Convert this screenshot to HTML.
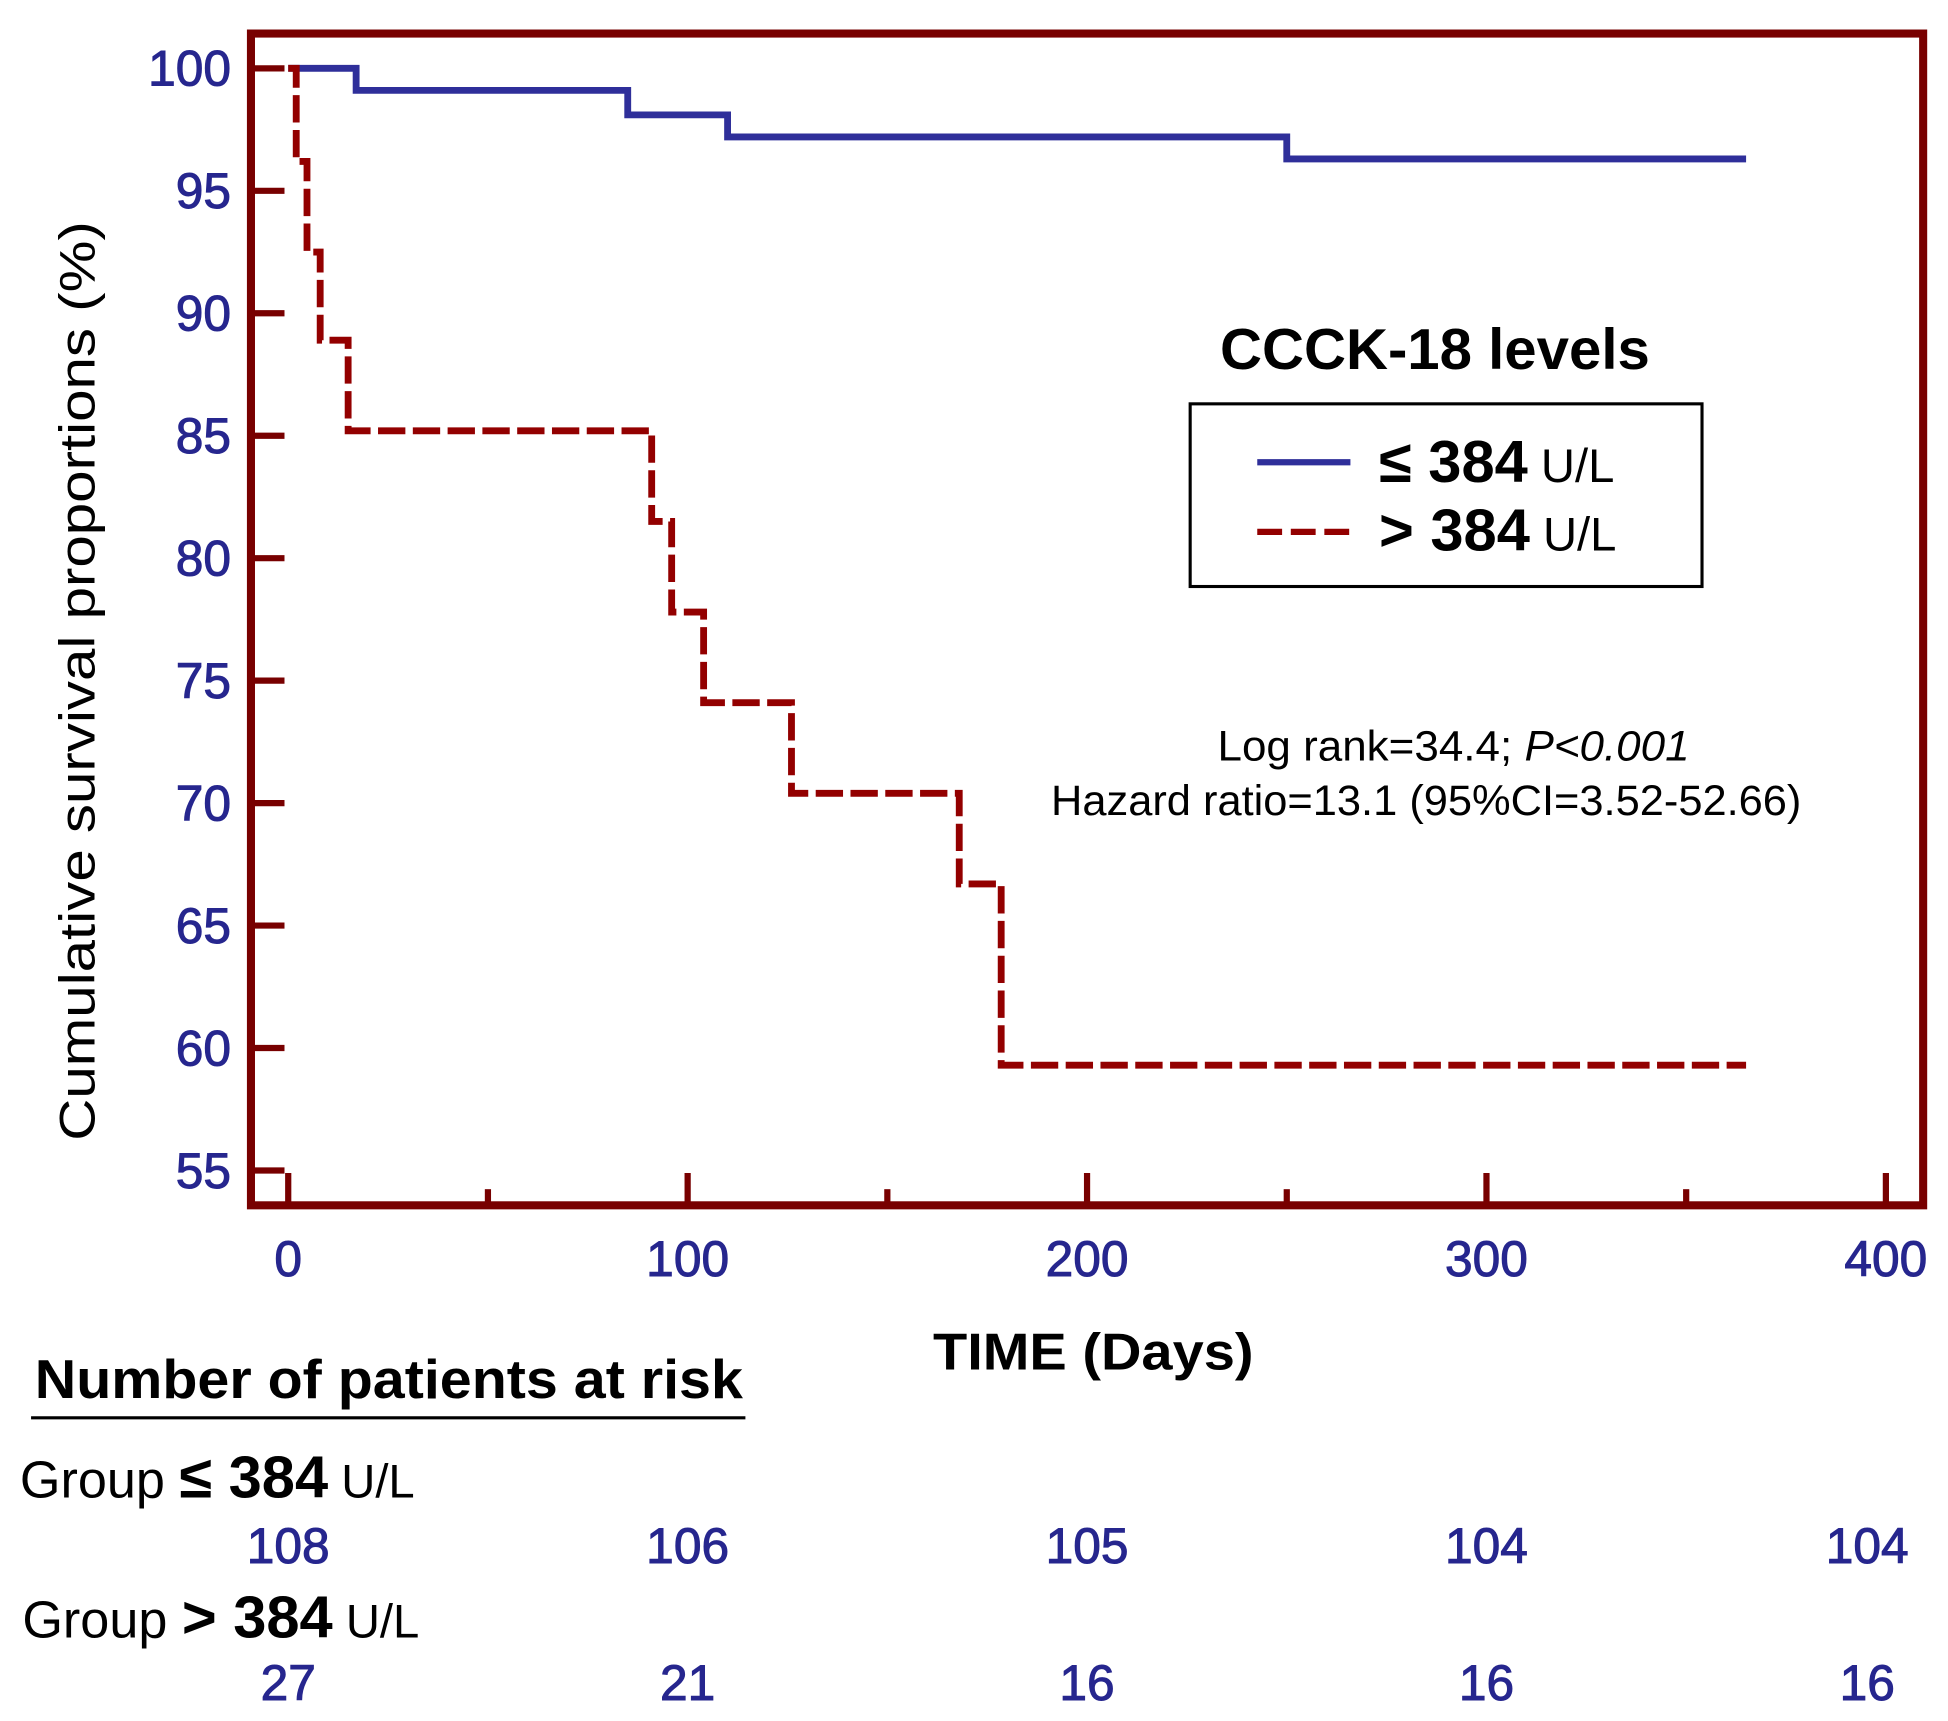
<!DOCTYPE html>
<html><head><meta charset="utf-8"><style>
html,body{margin:0;padding:0;background:#fff;}
svg{display:block;}
text{font-family:"Liberation Sans",Arial,sans-serif;}
</style></head><body>
<svg id="chart" width="1948" height="1721" viewBox="0 0 1568 1385" preserveAspectRatio="none" xmlns="http://www.w3.org/2000/svg">
</svg>
<script>
const xTicks=[0,100,200,300,400];
const xMinor=[50,150,250,350];
const yTicks=[55,60,65,70,75,80,85,90,95,100];
const lowTimes=[0,17,85,110,250,365];
const lowValues=[100,99.1,98.1,97.2,96.3,96.3];
const highTimes=[0,2,4.7,8,15,91,96,104,126,168,178.5,365];
const highValues=[100,96.2,92.5,88.9,85.2,81.5,77.8,74.1,70.4,66.7,59.3,59.3];
const riskLow=[108,106,105,104,104];
const riskHigh=[27,21,16,16,16];
const riskTimes=[0,100,200,300,395];

const NS='http://www.w3.org/2000/svg';
const svg=document.getElementById('chart');
const X=t=>232+t*3.215;
const Y=v=>55+(100-v)*19.71;
function mk(tag,attrs,txt){const e=document.createElementNS(NS,tag);for(const k in attrs)e.setAttribute(k,attrs[k]);if(txt!==undefined)e.textContent=txt;svg.appendChild(e);return e;}
const BLUE='#2f2f9a', RED='#930000', FRAME='#780000', LBL='#26268e';

let e=mk('rect',{x:202,y:27,width:1346,height:943,fill:'none',stroke:FRAME,'stroke-width':6.5});


yTicks.forEach(v=>{
 let t=mk('line',{x1:202,x2:229,y1:Y(v),y2:Y(v),stroke:FRAME,'stroke-width':5});
 
 let l=mk('text',{x:186,y:Y(v)+14,'text-anchor':'end','font-size':40,fill:LBL,stroke:LBL,'stroke-width':0.8},String(v));
 
});
xTicks.forEach(v=>{
 let t=mk('line',{x1:X(v),x2:X(v),y1:970,y2:944,stroke:FRAME,'stroke-width':5});
 
 let l=mk('text',{x:X(v),y:1027,'text-anchor':'middle','font-size':40,fill:LBL,stroke:LBL,'stroke-width':0.8},String(v));
 
});
xMinor.forEach(v=>{
 let t=mk('line',{x1:X(v),x2:X(v),y1:970,y2:957,stroke:FRAME,'stroke-width':5});
 
});
function stepPath(ts,vs){let d='M'+X(ts[0])+','+Y(vs[0]);for(let i=1;i<ts.length;i++){d+=' H'+X(ts[i])+' V'+Y(vs[i]);}return d;}
let pl=mk('path',{d:stepPath(lowTimes,lowValues),fill:'none',stroke:BLUE,'stroke-width':5.5});

let ph=mk('path',{d:stepPath(highTimes,highValues),fill:'none',stroke:RED,'stroke-width':5.5,'stroke-dasharray':'22 6'});


let yt=mk('text',{x:0,y:0,transform:'translate(76,548) rotate(-90)','text-anchor':'middle','font-size':40,fill:'#000',textLength:740,lengthAdjust:'spacingAndGlyphs'},'Cumulative survival proportions (%)');

let xt=mk('text',{x:880,y:1102,'text-anchor':'middle','font-size':42,'font-weight':'bold',fill:'#000',textLength:258,lengthAdjust:'spacingAndGlyphs'},'TIME (Days)');


let lt=mk('text',{x:1155,y:297,'text-anchor':'middle','font-size':46,'font-weight':'bold',fill:'#000',textLength:346,lengthAdjust:'spacingAndGlyphs'},'CCCK-18 levels');

let lb=mk('rect',{x:958,y:325,width:412,height:147,fill:'none',stroke:'#000','stroke-width':2.5});

let l1=mk('line',{x1:1012,x2:1087,y1:372,y2:372,stroke:BLUE,'stroke-width':5});

let l2=mk('line',{x1:1012,x2:1087,y1:428,y2:428,stroke:RED,'stroke-width':5,'stroke-dasharray':'20 7'});

let t1=mk('text',{x:1110,y:388,'font-size':48,fill:'#000'});
t1.innerHTML='<tspan font-weight="bold">≤ 384</tspan><tspan font-size="38"> U/L</tspan>';

let t2=mk('text',{x:1110,y:443,'font-size':48,fill:'#000'});
t2.innerHTML='<tspan font-weight="bold">&gt; 384</tspan><tspan font-size="38"> U/L</tspan>';


let a1=mk('text',{x:1170,y:612,'text-anchor':'middle','font-size':34,fill:'#000',textLength:380,lengthAdjust:'spacingAndGlyphs'});
a1.innerHTML='Log rank=34.4; <tspan font-style="italic">P&lt;0.001</tspan>';

let a2=mk('text',{x:1148,y:656,'text-anchor':'middle','font-size':34,fill:'#000',textLength:604,lengthAdjust:'spacingAndGlyphs'},'Hazard ratio=13.1 (95%CI=3.52-52.66)');


let rt=mk('text',{x:28,y:1125,'font-size':44,'font-weight':'bold',fill:'#000',textLength:570,lengthAdjust:'spacingAndGlyphs'},'Number of patients at risk');

let ru=mk('line',{x1:25,x2:600,y1:1141,y2:1141,stroke:'#000','stroke-width':2.5});

let g1=mk('text',{x:16,y:1205,'font-size':42,fill:'#000'});
g1.innerHTML='Group <tspan font-weight="bold" font-size="48">≤ 384</tspan><tspan font-size="38"> U/L</tspan>';

let g2=mk('text',{x:18,y:1318,'font-size':42,fill:'#000'});
g2.innerHTML='Group <tspan font-weight="bold" font-size="48">&gt; 384</tspan><tspan font-size="38">  U/L</tspan>';

riskTimes.forEach((t,i)=>{
 let a=mk('text',{x:i===4?1503:X(t),y:1258,'text-anchor':'middle','font-size':40,fill:LBL,stroke:LBL,'stroke-width':0.8},String(riskLow[i]));
 
 let b=mk('text',{x:i===4?1503:X(t),y:1368,'text-anchor':'middle','font-size':40,fill:LBL,stroke:LBL,'stroke-width':0.8},String(riskHigh[i]));
 
});
</script>
</body></html>
